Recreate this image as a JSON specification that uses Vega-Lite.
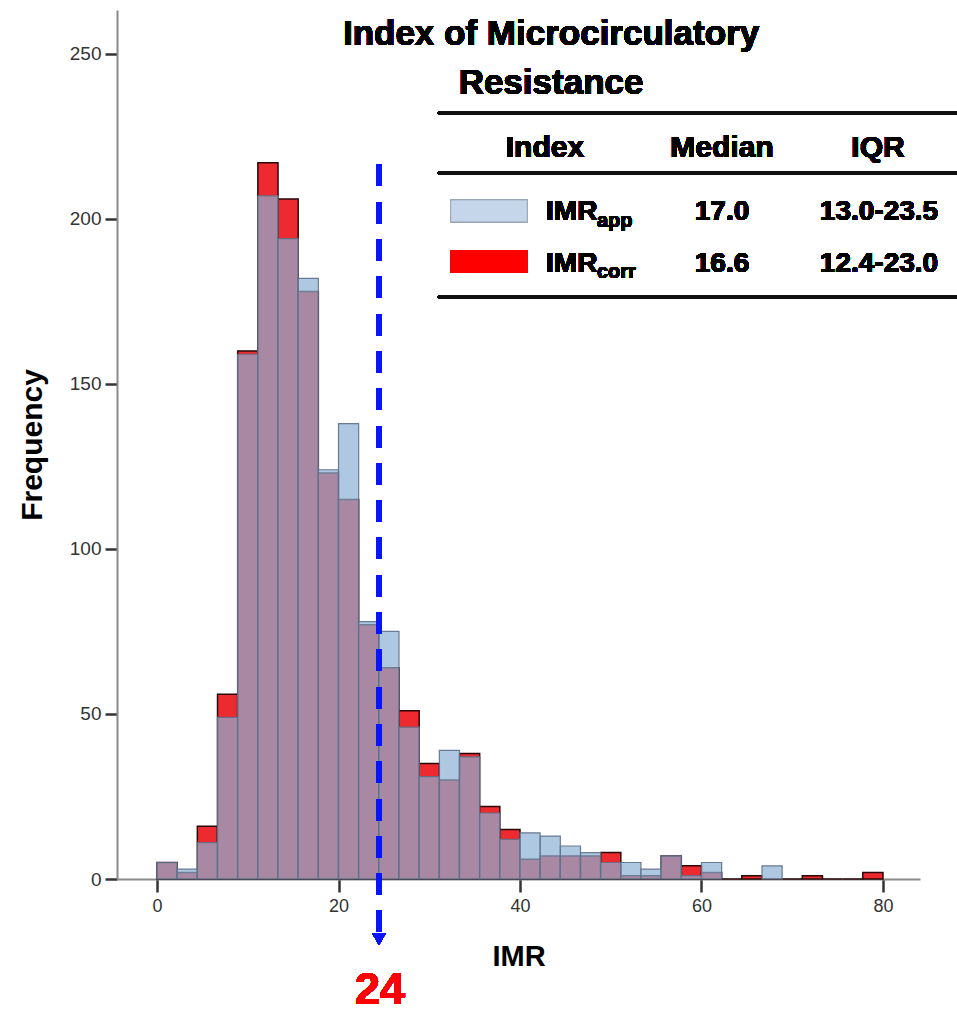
{
  "$schema": "https://vega.github.io/schema/vega-lite/v6.json",
  "width": 803,
  "height": 869,
  "autosize": {"type": "none"},
  "padding": {"left": 117, "top": 10, "right": 37, "bottom": 136},
  "background": "white",
  "config": {
    "view": {"stroke": null},
    "font": "Liberation Sans",
    "axis": {"grid": false, "labelFont": "Liberation Sans", "titleFont": "Liberation Sans", "labelColor": "#333", "titleColor": "#000", "domainColor": "#8a8a8a", "domainWidth": 2, "tickColor": "#333", "tickWidth": 2.5}
  },
  "data": {"values": [
    {"bin_start": 0, "bin_end": 2.222, "series": "app", "count": 5},
    {"bin_start": 2.222, "bin_end": 4.444, "series": "app", "count": 3},
    {"bin_start": 4.444, "bin_end": 6.667, "series": "app", "count": 11},
    {"bin_start": 6.667, "bin_end": 8.889, "series": "app", "count": 49},
    {"bin_start": 8.889, "bin_end": 11.111, "series": "app", "count": 159},
    {"bin_start": 11.111, "bin_end": 13.333, "series": "app", "count": 207},
    {"bin_start": 13.333, "bin_end": 15.556, "series": "app", "count": 194},
    {"bin_start": 15.556, "bin_end": 17.778, "series": "app", "count": 182},
    {"bin_start": 17.778, "bin_end": 20, "series": "app", "count": 124},
    {"bin_start": 20, "bin_end": 22.222, "series": "app", "count": 138},
    {"bin_start": 22.222, "bin_end": 24.444, "series": "app", "count": 78},
    {"bin_start": 24.444, "bin_end": 26.667, "series": "app", "count": 75},
    {"bin_start": 26.667, "bin_end": 28.889, "series": "app", "count": 46},
    {"bin_start": 28.889, "bin_end": 31.111, "series": "app", "count": 31},
    {"bin_start": 31.111, "bin_end": 33.333, "series": "app", "count": 39},
    {"bin_start": 33.333, "bin_end": 35.556, "series": "app", "count": 37},
    {"bin_start": 35.556, "bin_end": 37.778, "series": "app", "count": 20},
    {"bin_start": 37.778, "bin_end": 40, "series": "app", "count": 12},
    {"bin_start": 40, "bin_end": 42.222, "series": "app", "count": 14},
    {"bin_start": 42.222, "bin_end": 44.444, "series": "app", "count": 13},
    {"bin_start": 44.444, "bin_end": 46.667, "series": "app", "count": 10},
    {"bin_start": 46.667, "bin_end": 48.889, "series": "app", "count": 8},
    {"bin_start": 48.889, "bin_end": 51.111, "series": "app", "count": 5},
    {"bin_start": 51.111, "bin_end": 53.333, "series": "app", "count": 5},
    {"bin_start": 53.333, "bin_end": 55.556, "series": "app", "count": 3},
    {"bin_start": 55.556, "bin_end": 57.778, "series": "app", "count": 7},
    {"bin_start": 57.778, "bin_end": 60, "series": "app", "count": 1},
    {"bin_start": 60, "bin_end": 62.222, "series": "app", "count": 5},
    {"bin_start": 66.667, "bin_end": 68.889, "series": "app", "count": 4},
    {"bin_start": 0, "bin_end": 2.222, "series": "corr", "count": 5},
    {"bin_start": 2.222, "bin_end": 4.444, "series": "corr", "count": 2},
    {"bin_start": 4.444, "bin_end": 6.667, "series": "corr", "count": 16},
    {"bin_start": 6.667, "bin_end": 8.889, "series": "corr", "count": 56},
    {"bin_start": 8.889, "bin_end": 11.111, "series": "corr", "count": 160},
    {"bin_start": 11.111, "bin_end": 13.333, "series": "corr", "count": 217},
    {"bin_start": 13.333, "bin_end": 15.556, "series": "corr", "count": 206},
    {"bin_start": 15.556, "bin_end": 17.778, "series": "corr", "count": 178},
    {"bin_start": 17.778, "bin_end": 20, "series": "corr", "count": 123},
    {"bin_start": 20, "bin_end": 22.222, "series": "corr", "count": 115},
    {"bin_start": 22.222, "bin_end": 24.444, "series": "corr", "count": 77},
    {"bin_start": 24.444, "bin_end": 26.667, "series": "corr", "count": 64},
    {"bin_start": 26.667, "bin_end": 28.889, "series": "corr", "count": 51},
    {"bin_start": 28.889, "bin_end": 31.111, "series": "corr", "count": 35},
    {"bin_start": 31.111, "bin_end": 33.333, "series": "corr", "count": 30},
    {"bin_start": 33.333, "bin_end": 35.556, "series": "corr", "count": 38},
    {"bin_start": 35.556, "bin_end": 37.778, "series": "corr", "count": 22},
    {"bin_start": 37.778, "bin_end": 40, "series": "corr", "count": 15},
    {"bin_start": 40, "bin_end": 42.222, "series": "corr", "count": 6},
    {"bin_start": 42.222, "bin_end": 44.444, "series": "corr", "count": 7},
    {"bin_start": 44.444, "bin_end": 46.667, "series": "corr", "count": 7},
    {"bin_start": 46.667, "bin_end": 48.889, "series": "corr", "count": 7},
    {"bin_start": 48.889, "bin_end": 51.111, "series": "corr", "count": 8},
    {"bin_start": 51.111, "bin_end": 53.333, "series": "corr", "count": 1},
    {"bin_start": 53.333, "bin_end": 55.556, "series": "corr", "count": 1},
    {"bin_start": 55.556, "bin_end": 57.778, "series": "corr", "count": 7},
    {"bin_start": 57.778, "bin_end": 60, "series": "corr", "count": 4},
    {"bin_start": 60, "bin_end": 62.222, "series": "corr", "count": 2},
    {"bin_start": 62.222, "bin_end": 64.444, "series": "corr", "count": 0},
    {"bin_start": 64.444, "bin_end": 66.667, "series": "corr", "count": 1},
    {"bin_start": 66.667, "bin_end": 68.889, "series": "corr", "count": 0},
    {"bin_start": 68.889, "bin_end": 71.111, "series": "corr", "count": 0},
    {"bin_start": 71.111, "bin_end": 73.333, "series": "corr", "count": 1},
    {"bin_start": 73.333, "bin_end": 75.556, "series": "corr", "count": 0},
    {"bin_start": 75.556, "bin_end": 77.778, "series": "corr", "count": 0},
    {"bin_start": 77.778, "bin_end": 80, "series": "corr", "count": 2}
  ]},
  "layer": [
    {
      "transform": [{"filter": "datum.series === 'corr'"}],
      "mark": {"type": "rect", "color": "#ec2a30", "stroke": "#2a0808", "strokeWidth": 1.5},
      "encoding": {
        "x": {"field": "bin_start", "type": "quantitative", "scale": {"domain": [-4.41, 84.08], "nice": false, "zero": false},
              "axis": {"values": [0, 20, 40, 60, 80], "title": "IMR", "titleFontSize": 29, "titleFontWeight": "bold", "labelFontSize": 18, "tickSize": 13, "labelPadding": 5, "titlePadding": 27}},
        "x2": {"field": "bin_end"},
        "y": {"field": "count", "type": "quantitative", "scale": {"domain": [0, 263.3], "nice": false},
              "axis": {"values": [0, 50, 100, 150, 200, 250], "title": "Frequency", "titleFontSize": 30, "titleFontWeight": "bold", "labelFontSize": 19, "tickSize": 12, "labelPadding": 4, "titlePadding": 22}},
        "y2": {"datum": 0}
      }
    },
    {
      "transform": [{"filter": "datum.series === 'app'"}],
      "mark": {"type": "rect", "color": "#8db0d4", "fillOpacity": 0.7, "stroke": "#5f6f88", "strokeWidth": 1.2, "strokeOpacity": 0.9},
      "encoding": {
        "x": {"field": "bin_start", "type": "quantitative"},
        "x2": {"field": "bin_end"},
        "y": {"field": "count", "type": "quantitative"},
        "y2": {"datum": 0}
      }
    },
    {
      "mark": {"type": "rule", "color": "#0a14ff", "strokeWidth": 5, "strokeDash": [21.3, 16]},
      "encoding": {"x": {"datum": 24.46}, "y": {"datum": 216.4}, "y2": {"datum": -16}}
    },
    {
      "mark": {"type": "point", "shape": "triangle-down", "filled": true, "color": "#0a14ff", "opacity": 1, "size": 190},
      "encoding": {"x": {"datum": 24.46}, "y": {"datum": -18.2}}
    },
    {
      "mark": {"type": "text", "fontWeight": "bold", "fontSize": 45, "color": "#ff0000", "align": "center", "baseline": "alphabetic"},
      "encoding": {"x": {"datum": 24.57}, "y": {"datum": -37.9}, "text": {"value": "24"}}
    },
    {
      "mark": {"type": "text", "fontWeight": "bold", "fontSize": 35, "color": "#000", "align": "center", "baseline": "alphabetic"},
      "encoding": {"x": {"datum": 43.42}, "y": {"datum": 252.7}, "text": {"value": "Index of Microcirculatory"}}
    },
    {
      "mark": {"type": "text", "fontWeight": "bold", "fontSize": 35, "color": "#000", "align": "center", "baseline": "alphabetic"},
      "encoding": {"x": {"datum": 43.42}, "y": {"datum": 237.9}, "text": {"value": "Resistance"}}
    },
    {
      "mark": {"type": "rule", "color": "#111", "strokeWidth": 3},
      "encoding": {"x": {"datum": 30.96}, "x2": {"datum": 88.15}, "y": {"datum": 232.12}}
    },
    {
      "mark": {"type": "rule", "color": "#111", "strokeWidth": 2.5},
      "encoding": {"x": {"datum": 30.96}, "x2": {"datum": 88.15}, "y": {"datum": 213.94}}
    },
    {
      "mark": {"type": "rule", "color": "#111", "strokeWidth": 3},
      "encoding": {"x": {"datum": 30.96}, "x2": {"datum": 88.15}, "y": {"datum": 176.36}}
    },
    {
      "mark": {"type": "rect", "color": "#c6d6ea", "stroke": "#9aa6b4", "strokeWidth": 1},
      "encoding": {"x": {"datum": 32.36}, "x2": {"datum": 40.8}, "y": {"datum": 205.76}, "y2": {"datum": 199.09}}
    },
    {
      "mark": {"type": "rect", "color": "#ff0000"},
      "encoding": {"x": {"datum": 32.36}, "x2": {"datum": 40.8}, "y": {"datum": 190.61}, "y2": {"datum": 183.64}}
    },
    {
      "mark": {"type": "text", "fontWeight": "bold", "fontSize": 30, "color": "#000", "align": "center", "baseline": "alphabetic"},
      "encoding": {"x": {"datum": 42.75}, "y": {"datum": 218.79}, "text": {"value": "Index"}}
    },
    {
      "mark": {"type": "text", "fontWeight": "bold", "fontSize": 30, "color": "#000", "align": "center", "baseline": "alphabetic"},
      "encoding": {"x": {"datum": 62.26}, "y": {"datum": 218.79}, "text": {"value": "Median"}}
    },
    {
      "mark": {"type": "text", "fontWeight": "bold", "fontSize": 30, "color": "#000", "align": "center", "baseline": "alphabetic"},
      "encoding": {"x": {"datum": 79.45}, "y": {"datum": 218.79}, "text": {"value": "IQR"}}
    },
    {
      "mark": {"type": "text", "fontWeight": "bold", "fontSize": 28, "color": "#000", "align": "left", "baseline": "alphabetic"},
      "encoding": {"x": {"datum": 42.87}, "y": {"datum": 199.7}, "text": {"value": "IMR"}}
    },
    {
      "mark": {"type": "text", "fontWeight": "bold", "fontSize": 20, "color": "#000", "align": "left", "baseline": "alphabetic"},
      "encoding": {"x": {"datum": 48.48}, "y": {"datum": 197.58}, "text": {"value": "app"}}
    },
    {
      "mark": {"type": "text", "fontWeight": "bold", "fontSize": 28, "color": "#000", "align": "center", "baseline": "alphabetic"},
      "encoding": {"x": {"datum": 62.26}, "y": {"datum": 199.7}, "text": {"value": "17.0"}}
    },
    {
      "mark": {"type": "text", "fontWeight": "bold", "fontSize": 28, "color": "#000", "align": "center", "baseline": "alphabetic"},
      "encoding": {"x": {"datum": 79.56}, "y": {"datum": 199.7}, "text": {"value": "13.0-23.5"}}
    },
    {
      "mark": {"type": "text", "fontWeight": "bold", "fontSize": 28, "color": "#000", "align": "left", "baseline": "alphabetic"},
      "encoding": {"x": {"datum": 42.87}, "y": {"datum": 183.94}, "text": {"value": "IMR"}}
    },
    {
      "mark": {"type": "text", "fontWeight": "bold", "fontSize": 20, "color": "#000", "align": "left", "baseline": "alphabetic"},
      "encoding": {"x": {"datum": 48.48}, "y": {"datum": 182.12}, "text": {"value": "corr"}}
    },
    {
      "mark": {"type": "text", "fontWeight": "bold", "fontSize": 28, "color": "#000", "align": "center", "baseline": "alphabetic"},
      "encoding": {"x": {"datum": 62.26}, "y": {"datum": 183.94}, "text": {"value": "16.6"}}
    },
    {
      "mark": {"type": "text", "fontWeight": "bold", "fontSize": 28, "color": "#000", "align": "center", "baseline": "alphabetic"},
      "encoding": {"x": {"datum": 79.56}, "y": {"datum": 183.94}, "text": {"value": "12.4-23.0"}}
    }
  ]
}
